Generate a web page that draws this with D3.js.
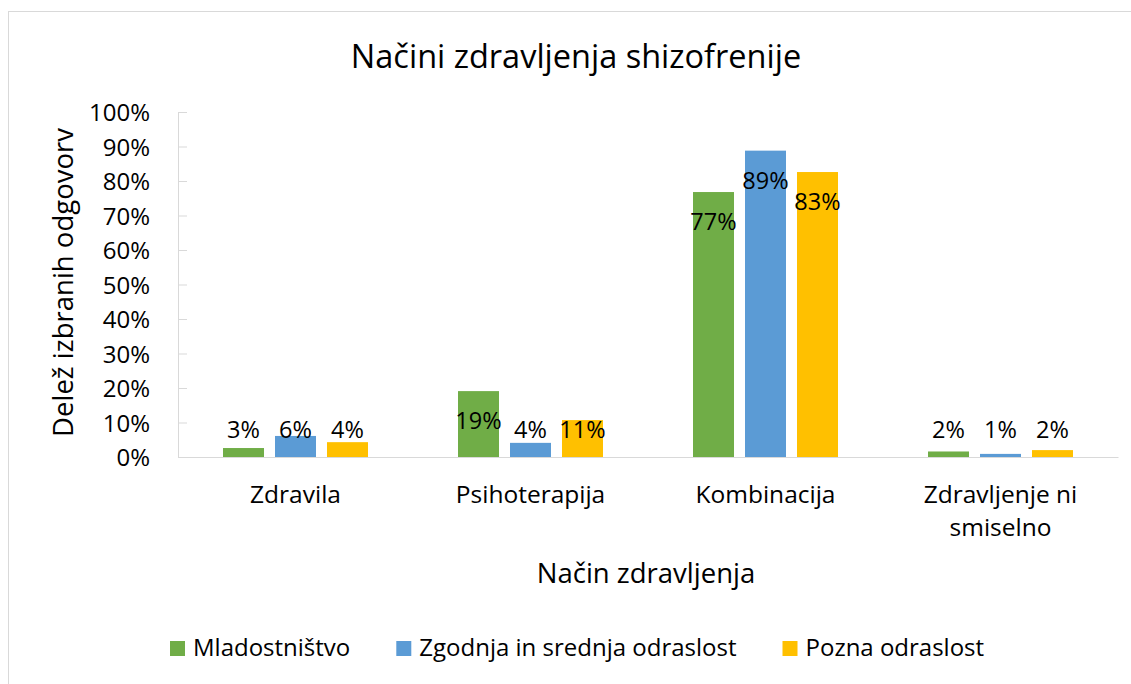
<!DOCTYPE html>
<html>
<head>
<meta charset="utf-8">
<script src="https://cdn.jsdelivr.net/npm/d3@7"></script>
<style>
  body { margin: 0; background: #fff; }
  svg text { font-family: "Open Sans", Lato, sans-serif; fill: #000; }
</style>
</head>
<body>
<svg id="chart" width="1131" height="684"></svg>
<script>
// data
const categories = ["Zdravila", "Psihoterapija", "Kombinacija", "Zdravljenje ni smiselno"];
const seriesNames = ["Mladostništvo", "Zgodnja in srednja odraslost", "Pozna odraslost"];
const mladostnistvo = [0.026, 0.191, 0.768, 0.016];
const zgodnjaSrednja = [0.061, 0.041, 0.888, 0.009];
const poznaOdraslost = [0.043, 0.107, 0.826, 0.02];
const yTicks = [0, 0.1, 0.2, 0.3, 0.4, 0.5, 0.6, 0.7, 0.8, 0.9, 1];
const colors = ["#70AD47", "#5B9BD5", "#FFC000"];

const seriesValues = [mladostnistvo, zgodnjaSrednja, poznaOdraslost];

var svg = d3.select("#chart"),
  margin = { top: 112, right: 13, bottom: 227, left: 178 },
  width = +svg.attr("width") - margin.left - margin.right,
  height = +svg.attr("height") - margin.top - margin.bottom;

// chart area border (runs off the right/bottom edge like the reference)
svg.append("rect")
  .attr("x", 8.5).attr("y", 11.5)
  .attr("width", 1140).attr("height", 700)
  .attr("fill", "none")
  .attr("stroke", "#d9d9d9");

svg.append("text")
  .attr("x", 576).attr("y", 68)
  .attr("text-anchor", "middle")
  .style("font-size", "32.5px")
  .text("Načini zdravljenja shizofrenije");

var x0 = d3.scaleBand().domain(categories).range([0, width])
  .paddingInner(0.383).paddingOuter(0.1915);
var x1 = d3.scaleBand().domain(seriesNames).range([0, x0.bandwidth()])
  .paddingInner(0.2115).paddingOuter(0);
var y = d3.scaleLinear().domain([0, 1]).range([height, 0]);

var g = svg.append("g")
  .attr("transform", "translate(" + margin.left + "," + margin.top + ")");

// y axis
var yAxis = g.append("g")
  .attr("class", "y axis")
  .call(d3.axisLeft(y).tickValues(yTicks).tickFormat(d3.format(".0%"))
    .tickSizeInner(-9).tickSizeOuter(0).tickPadding(28));
yAxis.select(".domain").attr("stroke", "#d9d9d9");
yAxis.selectAll(".tick line").attr("stroke", "#d9d9d9");
yAxis.selectAll(".tick text")
  .style("font-size", "24px")
  .attr("dy", "0.36em");

// x axis
var xAxis = g.append("g")
  .attr("class", "x axis")
  .attr("transform", "translate(0," + height + ")")
  .call(d3.axisBottom(x0).tickSize(0).tickPadding(0));
xAxis.select(".domain").attr("stroke", "#d9d9d9");
xAxis.selectAll(".tick text").remove();
xAxis.selectAll(".tick").each(function(d) {
  var lines = d === "Zdravljenje ni smiselno" ? ["Zdravljenje ni", "smiselno"] : [d];
  var t = d3.select(this).append("text")
    .attr("text-anchor", "middle")
    .style("font-size", "24.5px");
  lines.forEach(function(line, i) {
    t.append("tspan").attr("x", 0).attr("y", 46 + i * 33).text(line);
  });
});

// bars
var groups = g.selectAll(".category")
  .data(categories)
  .enter()
  .append("g")
  .attr("class", "category")
  .attr("transform", function(d) { return "translate(" + x0(d) + ",0)"; });

groups.selectAll("rect")
  .data(function(d, i) {
    return seriesNames.map(function(s, j) {
      return { series: s, value: seriesValues[j][i], color: colors[j] };
    });
  })
  .enter()
  .append("rect")
  .attr("x", function(d) { return x1(d.series); })
  .attr("y", function(d) { return y(d.value); })
  .attr("width", x1.bandwidth())
  .attr("height", function(d) { return height - y(d.value); })
  .attr("fill", function(d) { return d.color; });

// data labels (inside end, kept above the axis)
groups.selectAll(".label")
  .data(function(d, i) {
    return seriesNames.map(function(s, j) {
      return { series: s, value: seriesValues[j][i] };
    });
  })
  .enter()
  .append("text")
  .attr("class", "label")
  .attr("text-anchor", "middle")
  .style("font-size", "23.5px")
  .attr("x", function(d) { return x1(d.series) + x1.bandwidth() / 2; })
  .attr("y", function(d) { return Math.min(y(d.value) + 38, height - 19); })
  .text(function(d) { return Math.round(d.value * 100) + "%"; });

// axis titles
svg.append("text")
  .attr("x", 646).attr("y", 583)
  .attr("text-anchor", "middle")
  .style("font-size", "27.5px")
  .text("Način zdravljenja");

svg.append("text")
  .attr("transform", "translate(73," + (margin.top + height / 2 - 2) + ") rotate(-90)")
  .attr("text-anchor", "middle")
  .style("font-size", "27.5px")
  .text("Delež izbranih odgovorv");

// legend
var legend = svg.append("g").attr("class", "legend");
var legendX = 170;
seriesNames.forEach(function(name, i) {
  var item = legend.append("g").attr("transform", "translate(" + legendX + ",0)");
  item.append("rect")
    .attr("x", 0).attr("y", 641)
    .attr("width", 15).attr("height", 15)
    .attr("fill", colors[i]);
  var t = item.append("text")
    .attr("x", 23).attr("y", 656)
    .style("font-size", "24px")
    .text(name);
  legendX += 23 + t.node().getComputedTextLength() + 46;
});
</script>
</body>
</html>
